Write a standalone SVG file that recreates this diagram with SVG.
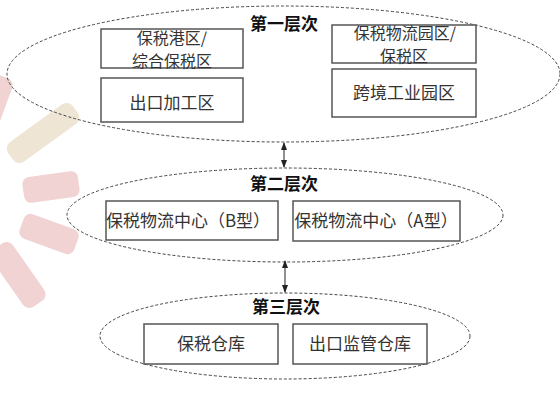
<svg xmlns="http://www.w3.org/2000/svg" width="560" height="416" viewBox="0 0 560 416">
<defs>
<style>
.bg{fill:#ffffff}
.deco-p{fill:#f2d3d3}
.deco-b{fill:#efe5d4}
.layer{fill:none;stroke:#444;stroke-width:1;stroke-dasharray:3 2}
.box{fill:#ffffff;stroke:#555;stroke-width:1.5}
.t{font-family:"Noto Sans CJK SC","Liberation Sans",sans-serif;font-size:17px;fill:#333;text-anchor:middle}
.t2{font-size:16px}
.h{font-family:"Noto Sans CJK SC","Liberation Sans",sans-serif;font-size:17px;font-weight:bold;fill:#111;text-anchor:middle}
.conn{stroke:#222;stroke-width:1;fill:none}
</style>
<marker id="ah" viewBox="0 0 8 8" refX="7" refY="4" markerWidth="8" markerHeight="8" orient="auto-start-reverse" markerUnits="userSpaceOnUse">
<path d="M0,1 L8,4 L0,7 Z" fill="#222"/>
</marker>
</defs>
<rect class="bg" x="0" y="0" width="560" height="416"/>
<g id="decoration">
<rect class="deco-p" x="-30" y="88" width="50" height="24" rx="8" transform="rotate(-70 -5 100)"/>
<rect class="deco-b" x="3" y="121" width="80" height="24" rx="8" transform="rotate(-36 43 133)"/>
<rect class="deco-p" x="23" y="174" width="56" height="26" rx="7" transform="rotate(-8 51 187)"/>
<rect class="deco-p" x="20" y="221" width="58" height="26" rx="7" transform="rotate(20 49 234)"/>
<rect class="deco-p" x="-17" y="262" width="70" height="26" rx="8" transform="rotate(55 18 275)"/>
</g>
<g id="layer1">
<ellipse class="layer" cx="283.5" cy="74" rx="276.5" ry="68"/>
<text class="h" x="284" y="30">第一层次</text>
</g>
<g id="layer2">
<ellipse class="layer" cx="285" cy="215" rx="218" ry="47"/>
<text class="h" x="284" y="190">第二层次</text>
</g>
<g id="layer3">
<ellipse class="layer" cx="285" cy="336" rx="185" ry="43"/>
<text class="h" x="286" y="313">第三层次</text>
</g>
<g id="box-bsgq">
<rect class="box" x="101" y="29" width="142" height="39"/>
<text class="t t2" x="172" y="44">保税港区/</text>
<text class="t t2" x="172" y="67">综合保税区</text>
</g>
<g id="box-ckjgq">
<rect class="box" x="101" y="78" width="142" height="44"/>
<text class="t" x="172" y="109">出口加工区</text>
</g>
<g id="box-bswlyq">
<rect class="box" x="332" y="25" width="144" height="38"/>
<text class="t t2" x="405" y="39">保税物流园区/</text>
<text class="t t2" x="404" y="62">保税区</text>
</g>
<g id="box-kjgyyq">
<rect class="box" x="332" y="69" width="144" height="48"/>
<text class="t" x="404" y="99">跨境工业园区</text>
</g>
<g id="box-bwzx-b">
<rect class="box" x="106" y="201" width="172" height="39"/>
<text class="t" x="188" y="227">保税物流中心（B型）</text>
</g>
<g id="box-bwzx-a">
<rect class="box" x="293" y="201" width="167" height="40"/>
<text class="t" x="376" y="227">保税物流中心（A型）</text>
</g>
<g id="box-bsck">
<rect class="box" x="144" y="324" width="134" height="40"/>
<text class="t" x="211" y="350">保税仓库</text>
</g>
<g id="box-ckjgck">
<rect class="box" x="293" y="324" width="134" height="40"/>
<text class="t" x="360" y="350">出口监管仓库</text>
</g>
<g id="connectors">
<line class="conn" x1="284" y1="143" x2="284" y2="167" marker-start="url(#ah)" marker-end="url(#ah)"/>
<line class="conn" x1="285" y1="261" x2="285" y2="292" marker-start="url(#ah)" marker-end="url(#ah)"/>
</g>
</svg>
